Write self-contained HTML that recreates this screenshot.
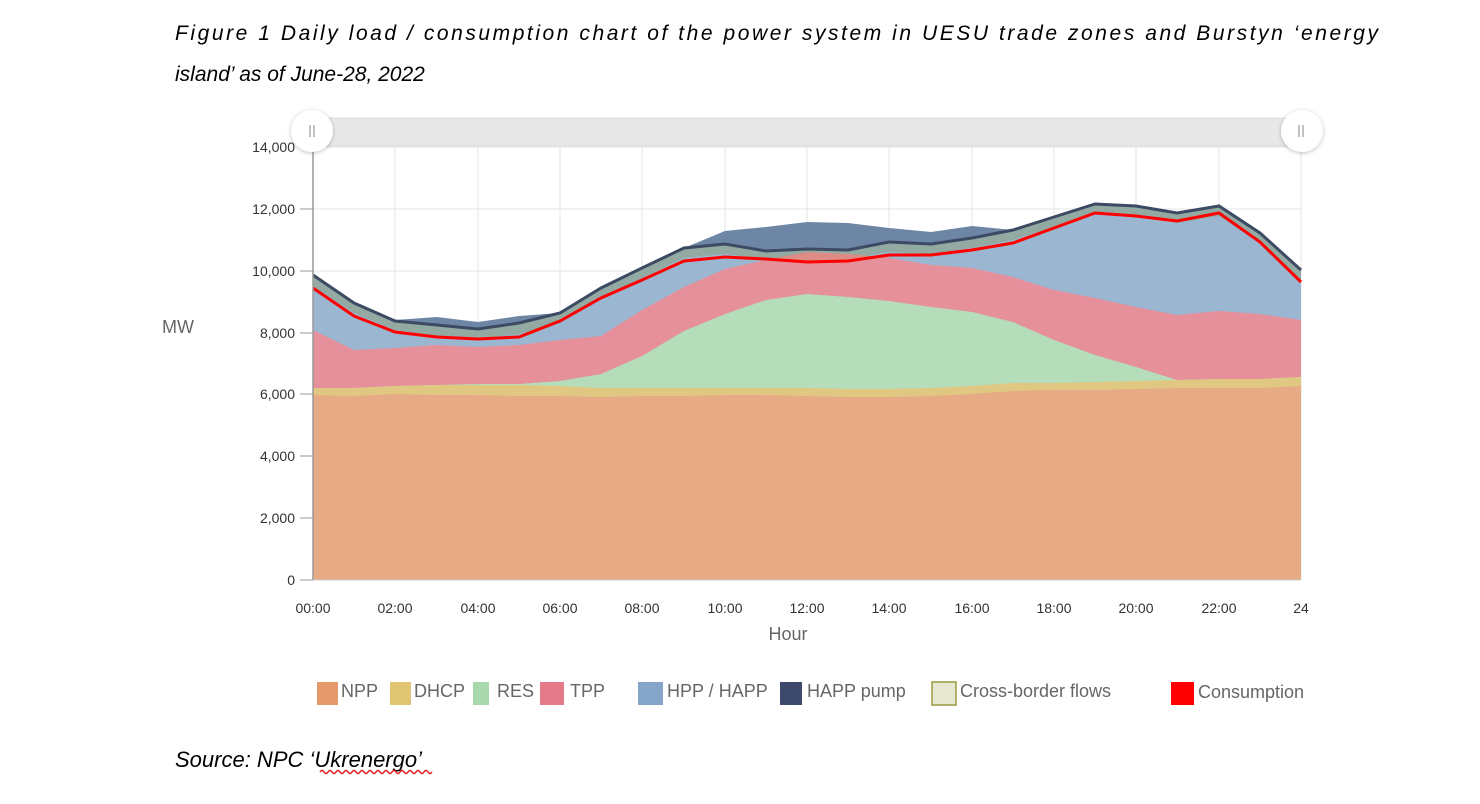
<!DOCTYPE html>
<html><head><meta charset="utf-8"><style>
body{margin:0;background:#fff;width:1480px;height:804px;overflow:hidden}
svg{display:block}
.t{font-family:"Liberation Sans",sans-serif}
</style></head><body>
<svg width="1480" height="804" viewBox="0 0 1480 804" class="t">
<defs><filter id="sh" x="-50%" y="-50%" width="200%" height="200%"><feDropShadow dx="0" dy="1" stdDeviation="2" flood-color="#000" flood-opacity="0.25"/></filter></defs>
<text x="175" y="40" font-size="21" font-style="italic" fill="#000" textLength="1203" lengthAdjust="spacing">Figure 1 Daily load / consumption chart of the power system in UESU trade zones and Burstyn ‘energy</text>
<text x="175" y="81" font-size="21" font-style="italic" fill="#000">island’ as of June-28, 2022</text>
<text x="175" y="767" font-size="22" font-style="italic" fill="#000">Source: NPC ‘Ukrenergo’</text>
<path d="M320 772 q2 -3 4 0 t4 0 t4 0 t4 0 t4 0 t4 0 t4 0 t4 0 t4 0 t4 0 t4 0 t4 0 t4 0 t4 0 t4 0 t4 0 t4 0 t4 0 t4 0 t4 0 t4 0 t4 0 t4 0 t4 0 t4 0 t4 0 t4 0 t4 0" stroke="#e02020" stroke-width="1.5" fill="none"/>
<g stroke="#e6e6e6" stroke-width="1">
<line x1="313" x2="1301" y1="518" y2="518"/><line x1="313" x2="1301" y1="456" y2="456"/><line x1="313" x2="1301" y1="394" y2="394"/><line x1="313" x2="1301" y1="333" y2="333"/><line x1="313" x2="1301" y1="271" y2="271"/><line x1="313" x2="1301" y1="209" y2="209"/><line x1="313" x2="1301" y1="147" y2="147"/>
<line x1="395" x2="395" y1="147" y2="580"/><line x1="478" x2="478" y1="147" y2="580"/><line x1="560" x2="560" y1="147" y2="580"/><line x1="642" x2="642" y1="147" y2="580"/><line x1="725" x2="725" y1="147" y2="580"/><line x1="807" x2="807" y1="147" y2="580"/><line x1="889" x2="889" y1="147" y2="580"/><line x1="972" x2="972" y1="147" y2="580"/><line x1="1054" x2="1054" y1="147" y2="580"/><line x1="1136" x2="1136" y1="147" y2="580"/><line x1="1219" x2="1219" y1="147" y2="580"/><line x1="1301" x2="1301" y1="147" y2="580"/>
</g>
<polygon fill="#6e86a6" points="313,275 354,303 395,320 437,317 478,322 519,316 560,313 601,288 642,267 684,248 725,231 766,227 807,222 848,223 889,228 931,232 972,226 1013,230 1054,217 1095,204 1136,206 1177,213 1219,206 1260,232 1301,270 1301,580 313,580"/>
<polygon fill="#93aaa3" points="313,275 354,303 395,321 437,325 478,329 519,323 560,313 601,288 642,268 684,248 725,244 766,251 807,249 848,250 889,242 931,244 972,238 1013,230 1054,217 1095,204 1136,206 1177,213 1219,206 1260,233 1301,270 1301,580 313,580"/>
<polygon fill="#9ab6d0" points="313,286 354,313 395,330 437,336 478,339 519,334 560,323 601,298 642,278 684,258 725,254 766,260 807,258 848,259 889,252 931,254 972,248 1013,240 1054,227 1095,214 1136,216 1177,223 1219,216 1260,243 1301,280 1301,580 313,580"/>
<polygon fill="#e6909c" points="313,330 354,350 395,348 437,345 478,347 519,345 560,340 601,336 642,310 684,287 725,269 766,260 807,252 848,254 889,258 931,265 972,268 1013,277 1054,290 1095,298 1136,307 1177,315 1219,311 1260,314 1301,320 1301,580 313,580"/>
<polygon fill="#d98a80" opacity="0.8" points="766,260 807,252 848,254 889,258 889,255 848,261 807,262 766,259"/>
<polygon fill="#b5ddb9" points="313,388 354,388 395,386 437,385 478,384 519,384 560,381 601,374 642,356 684,331 725,314 766,300 807,294 848,297 889,301 931,307 972,312 1013,322 1054,340 1095,355 1136,367 1177,380 1219,379 1260,379 1301,377 1301,580 313,580"/>
<polygon fill="#e1c882" points="313,388 354,388 395,386 437,385 478,385 519,385 560,386 601,388 642,388 684,388 725,388 766,388 807,388 848,389 889,389 931,388 972,386 1013,383 1054,383 1095,382 1136,381 1177,380 1219,379 1260,379 1301,377 1301,580 313,580"/>
<polygon fill="#e6ab84" points="313,395 354,396 395,394 437,395 478,395 519,396 560,396 601,397 642,396 684,396 725,395 766,395 807,396 848,397 889,397 931,396 972,394 1013,391 1054,390 1095,390 1136,389 1177,388 1219,388 1260,388 1301,386 1301,580 313,580"/>
<polyline fill="none" stroke="#3d4a63" stroke-width="3" points="313,275 354,303 395,321 437,325 478,329 519,323 560,313 601,288 642,268 684,248 725,244 766,251 807,249 848,250 889,242 931,244 972,238 1013,230 1054,217 1095,204 1136,206 1177,213 1219,206 1260,233 1301,270"/>
<polyline fill="none" stroke="#ff0000" stroke-width="3" points="313,288 354,316 395,332 437,337 478,339 519,337 560,321 601,298 642,280 684,261 725,257 766,259 807,262 848,261 889,255 931,255 972,250 1013,243 1054,228 1095,213 1136,216 1177,221 1219,213 1260,242 1301,282"/>
<line x1="313" y1="147" x2="313" y2="580" stroke="#999" stroke-width="1.5"/>
<line x1="313" y1="580" x2="1301" y2="580" stroke="#ccc"/>
<g stroke="#999"><line x1="300" x2="313" y1="580" y2="580"/><line x1="300" x2="313" y1="518" y2="518"/><line x1="300" x2="313" y1="456" y2="456"/><line x1="300" x2="313" y1="394" y2="394"/><line x1="300" x2="313" y1="333" y2="333"/><line x1="300" x2="313" y1="271" y2="271"/><line x1="300" x2="313" y1="209" y2="209"/><line x1="300" x2="313" y1="147" y2="147"/></g>
<g font-size="14" fill="#333" text-anchor="end">
<text x="295" y="585">0</text><text x="295" y="523">2,000</text><text x="295" y="461">4,000</text><text x="295" y="399">6,000</text><text x="295" y="338">8,000</text><text x="295" y="276">10,000</text><text x="295" y="214">12,000</text><text x="295" y="152">14,000</text>
</g>
<g font-size="14" fill="#333" text-anchor="middle">
<text x="313" y="613">00:00</text><text x="395" y="613">02:00</text><text x="478" y="613">04:00</text><text x="560" y="613">06:00</text><text x="642" y="613">08:00</text><text x="725" y="613">10:00</text><text x="807" y="613">12:00</text><text x="889" y="613">14:00</text><text x="972" y="613">16:00</text><text x="1054" y="613">18:00</text><text x="1136" y="613">20:00</text><text x="1219" y="613">22:00</text><text x="1301" y="613">24</text>
</g>
<text x="788" y="640" font-size="18" fill="#666" text-anchor="middle">Hour</text>
<text x="178" y="333" font-size="18" fill="#666" text-anchor="middle">MW</text>
<rect x="313" y="118" width="988" height="28" fill="#e8e8e8" stroke="#ddd"/>
<circle cx="312" cy="131" r="21" fill="#fff" filter="url(#sh)"/>
<circle cx="1302" cy="131" r="21" fill="#fff" filter="url(#sh)"/>
<g stroke="#999" stroke-width="1.2"><line x1="310" x2="310" y1="125" y2="137"/><line x1="314" x2="314" y1="125" y2="137"/><line x1="1299" x2="1299" y1="125" y2="137"/><line x1="1303" x2="1303" y1="125" y2="137"/></g>
<rect x="317" y="682" width="21" height="23" fill="#e6996a"/>
<rect x="390" y="682" width="21" height="23" fill="#e0c674"/>
<rect x="473" y="682" width="16" height="23" fill="#a8d8ab"/>
<rect x="540" y="682" width="24" height="23" fill="#e57a8a"/>
<rect x="638" y="682" width="25" height="23" fill="#85a6c9"/>
<rect x="780" y="682" width="22" height="23" fill="#3d4a6b"/>
<rect x="932" y="682" width="24" height="23" fill="#e6e8d2" stroke="#9a9a40" stroke-width="1.5"/>
<rect x="1171" y="682" width="23" height="23" fill="#ff0000"/>
<g font-size="18" fill="#666">
<text x="341" y="697">NPP</text><text x="414" y="697">DHCP</text><text x="497" y="697">RES</text><text x="570" y="697">TPP</text><text x="667" y="697">HPP / HAPP</text><text x="807" y="697">HAPP pump</text><text x="960" y="697">Cross-border flows</text><text x="1198" y="698">Consumption</text>
</g>
</svg>
</body></html>
